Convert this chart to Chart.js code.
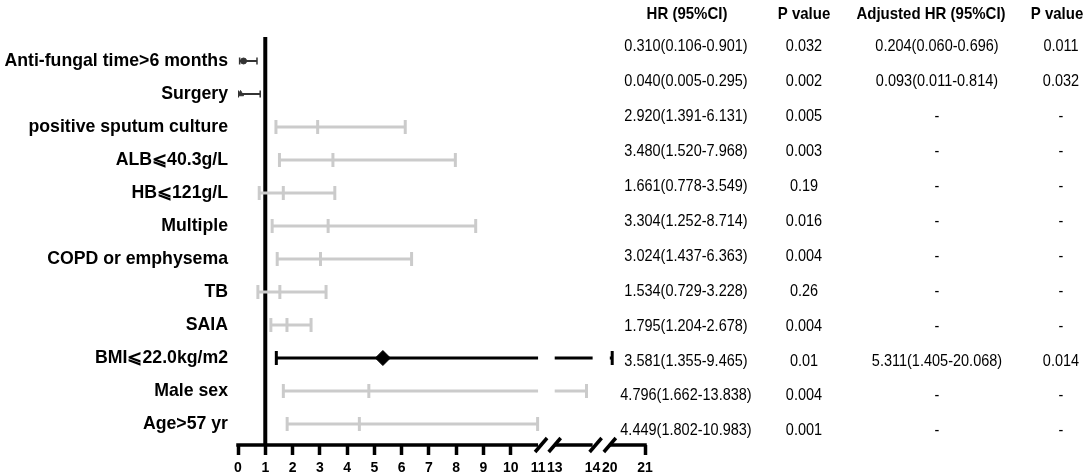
<!DOCTYPE html>
<html>
<head>
<meta charset="utf-8">
<script src="https://cdn.jsdelivr.net/npm/chart.js@4.4.1/dist/chart.umd.min.js"></script>
<style>
  html, body { margin: 0; padding: 0; background: #fff; }
  #wrap { width: 1084px; height: 475px; position: relative; }
</style>
</head>
<body>
<div id="wrap"><canvas id="forest"></canvas></div>
<script>
// rows, top to bottom
const labels = ["Anti-fungal time>6 months", "Surgery", "positive sputum culture", "ALB⩽40.3g/L",
  "HB⩽121g/L", "Multiple", "COPD or emphysema", "TB", "SAIA", "BMI⩽22.0kg/m2", "Male sex", "Age>57 yr"];
const hr     = [0.310, 0.040, 2.920, 3.480, 1.661, 3.304, 3.024, 1.534, 1.795, 3.581, 4.796, 4.449];
const hrLow  = [0.106, 0.005, 1.391, 1.520, 0.778, 1.252, 1.437, 0.729, 1.204, 1.355, 1.662, 1.802];
const hrHigh = [0.901, 0.295, 6.131, 7.968, 3.549, 8.714, 6.363, 3.228, 2.678, 9.465, 13.838, 10.983];
const pValues = ["0.032", "0.002", "0.005", "0.003", "0.19", "0.016", "0.004", "0.26", "0.004", "0.01", "0.004", "0.001"];
const adjHr   = [0.204, 0.093, null, null, null, null, null, null, null, 5.311, null, null];
const adjLow  = [0.060, 0.011, null, null, null, null, null, null, null, 1.405, null, null];
const adjHigh = [0.696, 0.814, null, null, null, null, null, null, null, 20.068, null, null];
const adjP    = ["0.011", "0.032", null, null, null, null, null, null, null, "0.014", null, null];
const headers = ["HR (95%CI)", "P value", "Adjusted HR (95%CI)", "P value"];

// broken x axis
const tickValues = [0, 1, 2, 3, 4, 5, 6, 7, 8, 9, 10, 11, 13, 14, 20, 21];
const axisParts = [[0, 11], [13, 14], [20, 21]];
const hiddenTicks = [11, 13, 14, 20];

const FONT = "'Liberation Sans', Arial, sans-serif";
const GRAY = "#cbcbcb";

// map a real HR value onto the continuous display scale
function axisPos(v) {
  if (v <= 11) return v;
  if (v <= 14) return 11.61 + (v - 13) * 1.39;
  return 13.63 + (v - 20) * 1.29;
}

function clipToParts(a, b) {
  const out = [];
  axisParts.forEach(p => {
    const lo = Math.max(a, p[0]), hi = Math.min(b, p[1]);
    if (hi > lo) out.push([lo, hi]);
  });
  return out;
}

function buildDatasets() {
  const sets = [];
  const caps = [], capColors = [], capSizes = [];
  const mids = [], midColors = [], midStyles = [], midSizes = [], midRot = [];
  for (let i = 0; i < labels.length; i++) {
    const adjusted = adjHr[i] !== null;
    const est = adjusted ? adjHr[i] : hr[i];
    const lo = adjusted ? adjLow[i] : hrLow[i];
    const hi = adjusted ? adjHigh[i] : hrHigh[i];
    const small = adjusted && hi < 1;
    const color = adjusted ? (small ? "#333333" : "#000000") : GRAY;
    const width = small ? 2 : 3;
    clipToParts(lo, hi).forEach(seg => {
      sets.push({
        type: "line",
        data: [{x: axisPos(seg[0]), y: i}, {x: axisPos(seg[1]), y: i}],
        borderColor: color,
        borderWidth: width,
        pointRadius: 0,
        showLine: true
      });
    });
    [lo, hi].forEach(v => {
      caps.push({x: axisPos(v), y: i});
      capColors.push(color);
      capSizes.push(small ? 3.5 : 7);
    });
    mids.push({x: axisPos(est), y: i});
    midColors.push(color);
    if (!adjusted) {
      midStyles.push("line"); midSizes.push(7); midRot.push(90);
    } else if (i === 0) {
      midStyles.push("circle"); midSizes.push(3); midRot.push(0);
    } else if (small) {
      midStyles.push("triangle"); midSizes.push(3.5); midRot.push(0);
    } else {
      midStyles.push("rectRot"); midSizes.push(7.5); midRot.push(0);
    }
  }
  sets.push({
    data: caps,
    pointStyle: "line",
    rotation: 90,
    pointRadius: capSizes,
    borderColor: capColors,
    pointBorderWidth: caps.map((c, k) => capSizes[k] < 5 ? 1.5 : 3)
  });
  sets.push({
    data: mids,
    pointStyle: midStyles,
    rotation: midRot,
    pointRadius: midSizes,
    borderColor: midColors,
    backgroundColor: midColors,
    pointBorderWidth: midStyles.map(s => s === "line" ? 3 : 1)
  });
  return sets;
}

// stretched text, the source figure is a bit taller than wide
function tallText(ctx, txt, x, y, sy) {
  ctx.save();
  ctx.translate(x, y);
  ctx.scale(1, sy);
  ctx.fillText(txt, 0, 0);
  ctx.restore();
}

const forestExtras = {
  id: "forestExtras",
  beforeDatasetsDraw(chart) {
    const {ctx, chartArea, scales} = chart;
    const px = v => scales.x.getPixelForValue(axisPos(v));
    const y0 = chartArea.bottom;
    ctx.save();
    ctx.strokeStyle = "#000";
    // reference line at HR = 1
    ctx.lineWidth = 4;
    ctx.beginPath();
    ctx.moveTo(px(1), chartArea.top);
    ctx.lineTo(px(1), y0);
    ctx.stroke();
    // axis pieces with break marks
    ctx.lineWidth = 3.5;
    axisParts.forEach(p => {
      ctx.beginPath();
      ctx.moveTo(px(p[0]) - (p[0] === 0 ? 1.75 : 0), y0);
      ctx.lineTo(px(p[1]) + (p[1] === 21 ? 1.75 : 0), y0);
      ctx.stroke();
      [p[0], p[1]].forEach(v => {
        if (v === 0 || v === 21) return;
        const x = px(v) + (v === p[1] ? 3 : 0);
        ctx.beginPath();
        ctx.moveTo(x - 6, y0 + 7);
        ctx.lineTo(x + 6, y0 - 7);
        ctx.stroke();
      });
    });
    ctx.restore();
  },
  afterDraw(chart) {
    const ctx = chart.ctx;
    const headX = [687, 804, 931, 1057];
    const colX = [686, 804, 937, 1061];
    ctx.save();
    ctx.fillStyle = "#000";
    ctx.textAlign = "center";
    ctx.textBaseline = "middle";
    ctx.font = "bold 15px " + FONT;
    headers.forEach((h, k) => tallText(ctx, h, headX[k], 14, 1.12));
    ctx.font = "14.5px " + FONT;
    for (let i = 0; i < labels.length; i++) {
      const y = 47 + i * 34.9;
      const cells = [
        hr[i].toFixed(3) + "(" + hrLow[i].toFixed(3) + "-" + hrHigh[i].toFixed(3) + ")",
        pValues[i],
        adjHr[i] === null ? "-" : adjHr[i].toFixed(3) + "(" + adjLow[i].toFixed(3) + "-" + adjHigh[i].toFixed(3) + ")",
        adjP[i] === null ? "-" : adjP[i]
      ];
      cells.forEach((c, k) => tallText(ctx, c, colX[k], y, 1.12));
    }
    ctx.restore();
  }
};

new Chart("forest", {
  type: "scatter",
  data: {datasets: buildDatasets()},
  plugins: [forestExtras],
  options: {
    responsive: true,
    maintainAspectRatio: false,
    animation: false,
    layout: {padding: {left: 0, right: 439, top: 37, bottom: 0}},
    plugins: {legend: {display: false}, tooltip: {enabled: false}},
    scales: {
      x: {
        type: "linear",
        min: 0,
        max: axisPos(21),
        afterBuildTicks: s => { s.ticks = tickValues.map(v => ({value: axisPos(v)})); },
        afterFit: s => { s.height = 30; },
        border: {display: false},
        grid: {
          drawOnChartArea: false,
          drawTicks: true,
          tickLength: 10,
          tickWidth: 3.5,
          tickColor: c => hiddenTicks.includes(tickValues[c.index]) ? "rgba(0,0,0,0)" : "#000"
        },
        ticks: {
          autoSkip: false,
          maxRotation: 0,
          padding: 5,
          color: "#000",
          font: {family: FONT, size: 14, weight: "bold"},
          callback: (val, idx) => tickValues[idx]
        }
      },
      y: {
        type: "linear",
        reverse: true,
        min: -0.727,
        max: 11.636,
        afterBuildTicks: s => { s.ticks = labels.map((l, i) => ({value: i})); },
        afterFit: s => { s.width = 238; },
        border: {display: false},
        grid: {display: false, drawTicks: false},
        ticks: {
          autoSkip: false,
          padding: 10,
          color: "#000",
          font: {family: FONT, size: 17.7, weight: "bold"},
          callback: (val) => labels[val]
        }
      }
    }
  }
});
</script>
</body>
</html>
